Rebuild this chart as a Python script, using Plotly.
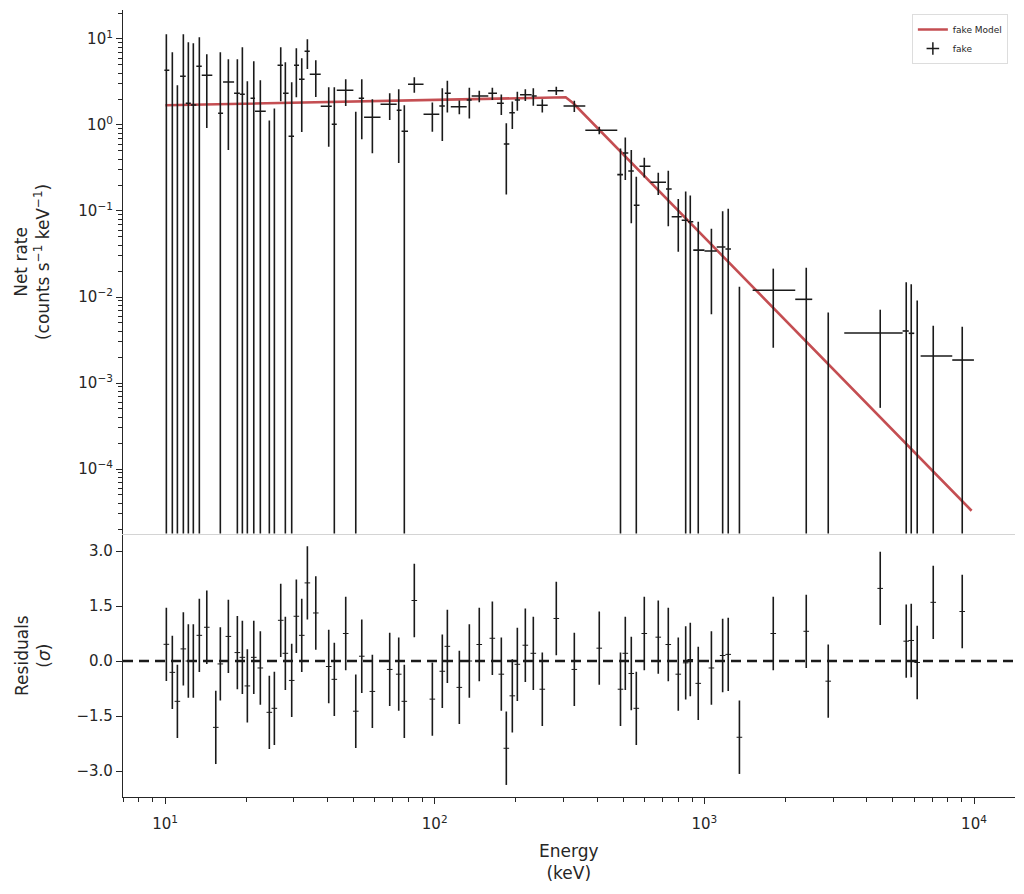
import plotly.graph_objects as go

# ---------------- data ----------------
# energy of each spectral bin centre (keV)
e_center = [10.11, 10.64, 11.11, 11.69, 12.20, 12.73, 13.40, 14.28, 15.42, 16.03,
            17.17, 18.54, 19.35, 20.19, 21.33, 22.56, 24.36, 25.43, 26.85, 27.93,
            29.49, 30.68, 32.13, 33.71, 36.22, 40.45, 42.43, 46.77, 50.96, 53.64,
            58.72, 68.09, 73.54, 77.14, 84.01, 98.0, 106.7, 111.4, 123.4, 134.4,
            146.3, 163.6, 176.6, 184.3, 194.0, 202.5, 216.8, 232.1, 250.6, 282.4,
            329.4, 407.6, 488.6, 509.1, 535.8, 559.2, 598.7, 674.6, 734.9, 800.3,
            852.5, 886.7, 949.1, 1062, 1169, 1226, 1349, 1801, 2387, 2880,
            4489, 5605, 5850, 6156, 7060, 9043]

# bin edges (keV), len = len(e_center) + 1
bin_edges = [9.94, 10.37, 10.87, 11.37, 11.93, 12.46, 13.06, 13.68, 14.97, 15.73,
             16.41, 18.03, 18.94, 19.76, 20.75, 21.56, 23.63, 24.89, 26.13, 27.39,
             28.71, 30.08, 31.39, 32.91, 34.40, 37.78, 41.51, 43.32, 49.93, 52.27,
             54.71, 62.96, 72.28, 75.33, 79.62, 90.89, 104.0, 109.0, 114.7, 131.4,
             137.1, 158.0, 170.2, 180.4, 189.1, 198.2, 207.2, 228.9, 238.9, 262.4,
             300.4, 361.8, 475.4, 499.1, 522.2, 547.4, 574.7, 631.2, 720.6, 756.5,
             824.0, 869.3, 909.6, 1001, 1111, 1197, 1255, 1510, 2173, 2512,
             3302, 5436, 5727, 6002, 6339, 8304, 9992]

# net rate (counts s^-1 keV^-1); negative values are not drawn on the log axis
net_rate = [4.325, -0.5, -1.0, 3.684, 1.788, 1.708, 4.815, 3.784, -6.0, 1.368,
            3.162, 2.336, 2.275, -1.4, 2.044, 1.443, -1.0, -1.0, 4.945, 2.336,
            0.739, 4.945, 3.400, 7.194, 3.886, 1.650, 1.019, 2.532, -0.2, 2.044,
            1.229, 1.740, 1.482, 0.845, 2.973, 1.331, 1.663, 2.336, 1.632, 1.953,
            2.174, 2.336, 1.788, 0.601, 1.390, 1.953, 2.250, 2.174, 1.695, 2.505,
            1.663, 0.868, 0.265, 0.4725, 0.2918, 0.1165, 0.3311, 0.2157, 0.1803, 0.0856,
            0.0780, 0.0751, 0.0351, 0.0343, 0.0381, 0.0361, -0.005, 0.01197, 0.0094, -0.002,
            0.003814, 0.004025, 0.003784, -0.001, 0.00206, 0.00185]

net_rate_err = [7.02, 7.5, 3.9, 7.66, 7.37, 7.2, 5.65, 2.86, 3.0, 5.63,
                2.65, 3.47, 5.73, 4.62, 3.46, 1.87, 2.13, 2.56, 3.06, 3.02,
                2.40, 2.85, 2.57, 2.73, 1.77, 1.09, 1.73, 0.87, 1.63, 1.36,
                0.76, 0.60, 1.12, 0.85, 0.61, 0.495, 1.01, 0.94, 0.30, 0.76,
                0.33, 0.38, 0.48, 0.446, 0.49, 0.49, 0.35, 0.50, 0.295, 0.28,
                0.25, 0.085, 0.268, 0.243, 0.22, 0.134, 0.086, 0.062, 0.114, 0.052,
                0.0905, 0.076, 0.040, 0.028, 0.061, 0.070, 0.0182, 0.0094, 0.0125, 0.0086,
                0.0033, 0.0108, 0.0103, 0.0101, 0.00258, 0.00267]

# residuals (sigma)
residual = [0.455, -0.31, -1.10, 0.33, 0.0, 0.0, 0.70, 0.92, -1.81, -0.08,
            0.67, 0.23, 0.10, -0.68, 0.10, -0.19, -1.40, -1.29, 1.11, 0.21,
            -0.53, 1.22, 0.70, 2.13, 1.31, -0.15, -0.50, 0.75, -1.37, 0.13,
            -0.83, -0.23, -0.36, -1.10, 1.65, -1.04, -0.28, 0.40, -0.72, 0.0,
            0.45, 0.62, -0.36, -2.38, -0.95, -0.09, 0.43, 0.21, -0.77, 1.16,
            -0.23, 0.35, -0.77, 0.21, -0.34, -1.29, 0.75, 0.65, 0.45, -0.36,
            -0.05, 0.04, -0.61, -0.19, 0.15, 0.18, -2.08, 0.75, 0.81, -0.55,
            1.98, 0.54, 0.56, -0.04, 1.60, 1.35]
residual_err = [1.0] * len(residual)

# folded model curve
model_energy = [10.03, 104.6, 306.0, 326.6, 9795]
model_rate = [1.695, 1.953, 2.099, 1.788, 3.27e-5]

# tick labels
x_tickvals = [10, 100, 1000, 10000]
x_ticktext = ["10<sup>1</sup>", "10<sup>2</sup>", "10<sup>3</sup>", "10<sup>4</sup>"]
y_tickvals = [1e-4, 1e-3, 1e-2, 1e-1, 1, 10]
y_ticktext = ["10<sup>\u22124</sup>", "10<sup>\u22123</sup>", "10<sup>\u22122</sup>",
              "10<sup>\u22121</sup>", "10<sup>0</sup>", "10<sup>1</sup>"]
r_tickvals = [-3.0, -1.5, 0.0, 1.5, 3.0]
r_ticktext = ["\u22123.0", "\u22121.5", "0.0", "1.5", "3.0"]

# ---------------- build figure ----------------
INK = "#262626"
DATA = "#1a1a1a"
RED = "#C44E52"
FONT = "DejaVu Sans"

e_lo = bin_edges[:-1]
e_hi = bin_edges[1:]
seg_x, seg_y = [], []
for c, lo, hi, r, e in zip(e_center, e_lo, e_hi, net_rate, net_rate_err):
    top = r + e
    if top > 0:
        bot = r - e if (r - e) > 0 else 1e-12
        seg_x += [c, c, None]
        seg_y += [bot, top, None]
    if r > 0:
        seg_x += [lo, hi, None]
        seg_y += [r, r, None]

fig = go.Figure()

fig.add_trace(go.Scatter(x=model_energy, y=model_rate, mode="lines",
                         line=dict(color=RED, width=2.6), name="fake Model",
                         xaxis="x2", yaxis="y2"))
fig.add_trace(go.Scatter(x=seg_x, y=seg_y, mode="lines",
                         line=dict(color=DATA, width=1.6), showlegend=False,
                         hoverinfo="skip", xaxis="x2", yaxis="y2"))
fig.add_trace(go.Scatter(x=[None], y=[None], mode="markers", name="fake",
                         marker=dict(symbol="cross-thin", size=9, color=DATA,
                                     line=dict(width=1.5, color=DATA)),
                         xaxis="x2", yaxis="y2"))

fig.add_trace(go.Scatter(x=e_center, y=residual, mode="markers",
                         marker=dict(symbol="line-ew", size=4, color=DATA,
                                     line=dict(width=1, color=DATA)),
                         error_y=dict(type="data", array=residual_err, visible=True,
                                      thickness=1.6, width=0, color=DATA),
                         showlegend=False, xaxis="x", yaxis="y"))

minor_x = [m * 10 ** k for k in range(0, 5) for m in range(2, 10)]
minor_y = [m * 10 ** k for k in range(-5, 2) for m in range(2, 10)]

tick_common = dict(ticks="outside", ticklen=6, tickwidth=1.25, tickcolor=INK,
                   showgrid=False, zeroline=False,
                   tickfont=dict(family=FONT, size=15, color=INK))

P_SPLIT = 0.3348

fig.update_layout(
    width=1024, height=894,
    margin=dict(l=123, r=9, t=10, b=97),
    paper_bgcolor="white", plot_bgcolor="white",
    font=dict(family=FONT, color=INK),
    xaxis=dict(domain=[0, 1], anchor="y", type="log", range=[0.844, 4.152],
               tickmode="array", tickvals=x_tickvals, ticktext=x_ticktext,
               showline=True, linecolor=INK, linewidth=1.25, ticklabelstandoff=7,
               minor=dict(ticks="outside", ticklen=3.5, tickwidth=1, tickcolor=INK,
                          tickmode="array", tickvals=minor_x, showgrid=False),
               **tick_common),
    yaxis=dict(domain=[0, P_SPLIT], anchor="x", range=[-3.709, 3.477],
               tickmode="array", tickvals=r_tickvals, ticktext=r_ticktext,
               showline=True, linecolor=INK, linewidth=1.25,
               **tick_common),
    xaxis2=dict(domain=[0, 1], anchor="y2", type="log", matches="x",
                showticklabels=False, ticks="", showgrid=False, zeroline=False,
                showline=True, linecolor="#d4d4d4", linewidth=1),
    yaxis2=dict(domain=[P_SPLIT, 1], anchor="x2", type="log", range=[-4.75, 1.337],
                tickmode="array", tickvals=y_tickvals, ticktext=y_ticktext,
                showline=True, linecolor=INK, linewidth=1.25,
                minor=dict(ticks="outside", ticklen=3.5, tickwidth=1, tickcolor=INK,
                           tickmode="array", tickvals=minor_y, showgrid=False),
                **tick_common),
    legend=dict(x=0.992, y=0.995, xanchor="right", yanchor="top",
                bgcolor="white", bordercolor="#dddddd", borderwidth=1,
                font=dict(family=FONT, size=9, color=INK),
                itemwidth=30, tracegroupgap=0),
    showlegend=True,
)

fig.add_shape(type="line", xref="x domain", yref="y", x0=0, x1=1, y0=0, y1=0,
              line=dict(color=DATA, width=2.6, dash="10px,6px"), layer="above")

fig.add_annotation(text="Net rate<br>(counts s<sup>\u22121</sup> keV<sup>\u22121</sup>)",
                   xref="paper", yref="paper", x=-0.102, y=0.6798,
                   xanchor="center", yanchor="middle", textangle=-90, showarrow=False,
                   font=dict(family=FONT, size=17, color=INK))
fig.add_annotation(text="Residuals<br>(<i>\u03c3</i>)",
                   xref="paper", yref="paper", x=-0.101, y=0.1804,
                   xanchor="center", yanchor="middle", textangle=-90, showarrow=False,
                   font=dict(family=FONT, size=17, color=INK))
fig.add_annotation(text="Energy<br>(keV)",
                   xref="paper", yref="paper", x=0.5, y=-0.0826,
                   xanchor="center", yanchor="middle", showarrow=False,
                   font=dict(family=FONT, size=17, color=INK))

fig.write_html("out.html")
